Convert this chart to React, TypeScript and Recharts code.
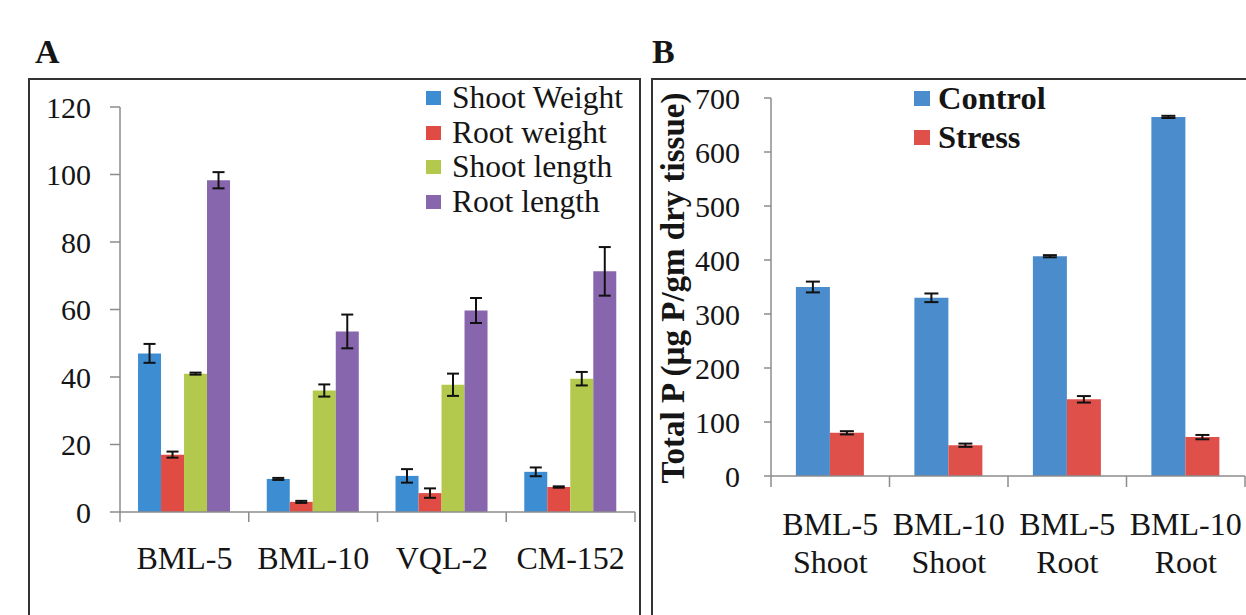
import React from 'react';
import { BarChart, Bar, XAxis, YAxis, ErrorBar, Legend, Label } from 'recharts';

const FONT = '"Liberation Serif", "Times New Roman", serif';
const AXIS = '#8c8c8c';
const TEXT = '#151515';

// ---------- Panel A data ----------
const categoriesA = ['BML-5', 'BML-10', 'VQL-2', 'CM-152'];
const seriesNamesA = ['Shoot Weight', 'Root weight', 'Shoot length', 'Root length'];
const shootWeight = [47, 9.8, 10.7, 11.9];
const shootWeightErr = [2.8, 0.3, 2.0, 1.3];
const rootWeight = [17.0, 3.0, 5.6, 7.4];
const rootWeightErr = [0.9, 0.3, 1.4, 0.2];
const shootLength = [41, 36, 37.7, 39.5];
const shootLengthErr = [0.3, 1.8, 3.3, 2.0];
const rootLength = [98.3, 53.5, 59.7, 71.3];
const rootLengthErr = [2.4, 5.0, 3.7, 7.2];
const ticksA = [0, 20, 40, 60, 80, 100, 120];

// ---------- Panel B data ----------
const categoriesB = ['BML-5 Shoot', 'BML-10 Shoot', 'BML-5 Root', 'BML-10 Root'];
const seriesNamesB = ['Control', 'Stress'];
const control = [350, 330, 407, 665];
const controlErr = [10, 8, 2, 2];
const stress = [80, 57, 142, 72];
const stressErr = [3, 3, 6, 4];
const ticksB = [0, 100, 200, 300, 400, 500, 600, 700];

const dataA = categoriesA.map((c, i) => ({
  name: c,
  sw: shootWeight[i], swE: shootWeightErr[i],
  rw: rootWeight[i], rwE: rootWeightErr[i],
  sl: shootLength[i], slE: shootLengthErr[i],
  rl: rootLength[i], rlE: rootLengthErr[i],
}));

const dataB = categoriesB.map((c, i) => ({
  name: c,
  ctrl: control[i], ctrlE: controlErr[i],
  str: stress[i], strE: stressErr[i],
}));

const TickA = (props: any) => {
  const { x, y, payload, index } = props;
  const half = (payload && payload.offset) || (props.width ? props.width / categoriesA.length / 2 : 64);
  const last = index === categoriesA.length - 1;
  return (
    <g>
      <line x1={x - half} x2={x - half} y1={y} y2={y + 10} stroke={AXIS} strokeWidth={1.5} />
      {last && <line x1={x + half} x2={x + half} y1={y} y2={y + 10} stroke={AXIS} strokeWidth={1.5} />}
      <text x={x} y={y + 57} textAnchor="middle" fill={TEXT} fontFamily={FONT} fontSize={32}>
        {payload.value}
      </text>
    </g>
  );
};

const TickB = (props: any) => {
  const { x, y, payload, index } = props;
  const half = (payload && payload.offset) || (props.width ? props.width / categoriesB.length / 2 : 59);
  const last = index === categoriesB.length - 1;
  const parts = String(payload.value).split(' ');
  return (
    <g>
      <line x1={x - half} x2={x - half} y1={y} y2={y + 11} stroke={AXIS} strokeWidth={1.5} />
      {last && <line x1={x + half} x2={x + half} y1={y} y2={y + 11} stroke={AXIS} strokeWidth={1.5} />}
      <text x={x} y={y + 59} textAnchor="middle" fill={TEXT} fontFamily={FONT} fontSize={32}>
        {parts[0]}
      </text>
      <text x={x} y={y + 97} textAnchor="middle" fill={TEXT} fontFamily={FONT} fontSize={32}>
        {parts.slice(1).join(' ')}
      </text>
    </g>
  );
};

const ordered = (payload: any[], names: string[]) =>
  [...(payload || [])].sort((a, b) => names.indexOf(a.value) - names.indexOf(b.value));

const legendA = (props: any) => (
  <div style={{ fontFamily: FONT, fontSize: 31.5, color: TEXT }}>
    {ordered(props.payload, seriesNamesA).map((p: any) => (
      <div key={p.value} style={{ display: 'flex', alignItems: 'center', height: 34.5, whiteSpace: 'nowrap' }}>
        <span style={{ display: 'inline-block', width: 15, height: 14, background: p.color, marginRight: 11 }} />
        <span>{p.value}</span>
      </div>
    ))}
  </div>
);

const legendB = (props: any) => (
  <div style={{ fontFamily: FONT, fontSize: 32.5, fontWeight: 'bold', color: TEXT }}>
    {ordered(props.payload, seriesNamesB).map((p: any) => (
      <div key={p.value} style={{ display: 'flex', alignItems: 'center', height: 39, whiteSpace: 'nowrap' }}>
        <span style={{ display: 'inline-block', width: 16, height: 15, background: p.color, marginRight: 8 }} />
        <span>{p.value}</span>
      </div>
    ))}
  </div>
);

const yLabelB = (props: any) => {
  const vb = props.viewBox || { x: 652, y: 98, width: 119, height: 378 };
  const cx = vb.x + 21;
  const cy = vb.y + vb.height / 2 + 1;
  return (
    <text
      x={cx}
      y={cy}
      transform={`rotate(-90, ${cx}, ${cy})`}
      textAnchor="middle"
      dominantBaseline="central"
      fontFamily={FONT}
      fontWeight="bold"
      fontSize={33}
      fill={TEXT}
    >
      Total P (µg P/gm dry tissue)
    </text>
  );
};

const panelLabel = (txt: string, left: number): React.ReactNode => (
  <div
    style={{
      position: 'absolute', left, top: 35, fontFamily: FONT, fontWeight: 'bold',
      fontSize: 34, lineHeight: 1, color: TEXT,
    }}
  >
    {txt}
  </div>
);

export default function App() {
  return (
    <div
      style={{
        position: 'absolute', left: 0, top: 0, width: 1246, height: 615,
        overflow: 'hidden', background: '#ffffff',
      }}
    >
      {panelLabel('A', 35)}
      {panelLabel('B', 652)}
      <div style={{ position: 'absolute', left: 28, top: 78, width: 613, height: 600, border: '2px solid #333', boxSizing: 'border-box' }} />
      <div style={{ position: 'absolute', left: 651, top: 78, width: 700, height: 600, border: '2px solid #333', boxSizing: 'border-box' }} />

      <div style={{ position: 'absolute', left: 0, top: 0 }}>
        <BarChart
          width={641}
          height={615}
          data={dataA}
          margin={{ top: 107, right: 6, bottom: 43, left: 0 }}
          barCategoryGap="14%"
          barGap={0}
        >
          <XAxis
            dataKey="name"
            height={60}
            axisLine={{ stroke: AXIS, strokeWidth: 1.5 }}
            tickLine={false}
            tickSize={0}
            tickMargin={0}
            tick={<TickA />}
            interval={0}
          />
          <YAxis
            width={120}
            domain={[0, 120]}
            ticks={ticksA}
            interval={0}
            axisLine={{ stroke: AXIS, strokeWidth: 1.5 }}
            tickLine={{ stroke: AXIS, strokeWidth: 1.5 }}
            tickSize={10}
            tickMargin={19}
            tick={{ fill: TEXT, fontSize: 30, fontFamily: FONT }}
          />
          <Legend
            layout="vertical"
            align="center"
            verticalAlign="middle"
            itemSorter={null as any}
            content={legendA}
            wrapperStyle={{ position: 'absolute', top: 81, left: 426, width: 'auto', height: 'auto' }}
          />
          <Bar dataKey="sw" name={seriesNamesA[0]} fill="#3d8dd3" isAnimationActive={false}>
            <ErrorBar dataKey="swE" width={6} strokeWidth={2} stroke="#111" direction="y" />
          </Bar>
          <Bar dataKey="rw" name={seriesNamesA[1]} fill="#e04c43" isAnimationActive={false}>
            <ErrorBar dataKey="rwE" width={6} strokeWidth={2} stroke="#111" direction="y" />
          </Bar>
          <Bar dataKey="sl" name={seriesNamesA[2]} fill="#b3c94d" isAnimationActive={false}>
            <ErrorBar dataKey="slE" width={6} strokeWidth={2} stroke="#111" direction="y" />
          </Bar>
          <Bar dataKey="rl" name={seriesNamesA[3]} fill="#8766ad" isAnimationActive={false}>
            <ErrorBar dataKey="rlE" width={6} strokeWidth={2} stroke="#111" direction="y" />
          </Bar>
        </BarChart>
      </div>

      <div style={{ position: 'absolute', left: 652, top: 0 }}>
        <BarChart
          width={594}
          height={615}
          data={dataB}
          margin={{ top: 98, right: 1, bottom: 49, left: 0 }}
          barCategoryGap="21%"
          barGap={0}
        >
          <XAxis
            dataKey="name"
            height={90}
            axisLine={{ stroke: AXIS, strokeWidth: 1.5 }}
            tickLine={false}
            tickSize={0}
            tickMargin={0}
            tick={<TickB />}
            interval={0}
          />
          <YAxis
            width={119}
            domain={[0, 700]}
            ticks={ticksB}
            interval={0}
            axisLine={{ stroke: AXIS, strokeWidth: 1.5 }}
            tickLine={{ stroke: AXIS, strokeWidth: 1.5 }}
            tickSize={7}
            tickMargin={24}
            tick={{ fill: TEXT, fontSize: 30, fontFamily: FONT }}
          >
            <Label content={yLabelB} />
          </YAxis>
          <Legend
            layout="vertical"
            align="center"
            verticalAlign="middle"
            itemSorter={null as any}
            content={legendB}
            wrapperStyle={{ position: 'absolute', top: 79, left: 262, width: 'auto', height: 'auto' }}
          />
          <Bar dataKey="ctrl" name={seriesNamesB[0]} fill="#4a8ccc" isAnimationActive={false}>
            <ErrorBar dataKey="ctrlE" width={7} strokeWidth={2} stroke="#111" direction="y" />
          </Bar>
          <Bar dataKey="str" name={seriesNamesB[1]} fill="#e0504a" isAnimationActive={false}>
            <ErrorBar dataKey="strE" width={7} strokeWidth={2} stroke="#111" direction="y" />
          </Bar>
        </BarChart>
      </div>
    </div>
  );
}
